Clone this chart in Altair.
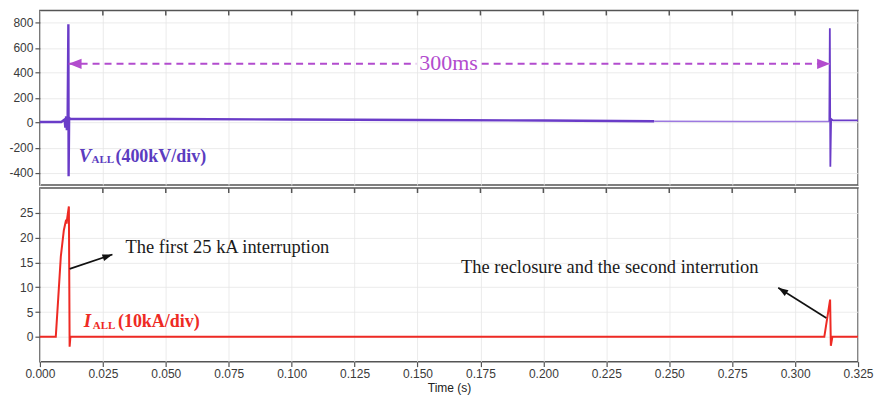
import altair as alt
import pandas as pd

# ---------------- data ----------------
x_ticks = [0.0, 0.025, 0.05, 0.075, 0.1, 0.125, 0.15, 0.175, 0.2, 0.225, 0.25, 0.275, 0.3, 0.325]
inner_ticks = [0.025, 0.05, 0.075, 0.1, 0.125, 0.15, 0.175, 0.2, 0.225, 0.25, 0.275, 0.3]
v_ticks = [-400, -200, 0, 200, 400, 600, 800]
i_ticks = [0, 5, 10, 15, 20, 25]

# voltage (kV)
v_main_t = [0.0, 0.0085, 0.0098, 0.0101, 0.0104, 0.0107, 0.0110, 0.0113, 0.0114, 0.0116, 0.0120,
            0.05, 0.10, 0.15, 0.20, 0.244]
v_main = [5, 5, 25, -40, 50, -60, 10, 790, -430, 40, 30,
          29, 26, 22, 17, 12]
v_tail_t = [0.244, 0.28, 0.3136]
v_tail = [12, 10, 9]
v_end_t = [0.3136, 0.3138, 0.3140, 0.3143, 0.3150, 0.325]
v_end = [9, 758, -354, 30, 18, 18]

# current (kA)
i_t = [0.0, 0.0063, 0.0073, 0.0083, 0.0095, 0.0104, 0.0106, 0.0108, 0.0115, 0.0118, 0.0121,
       0.3116, 0.3139, 0.3142, 0.3148, 0.325]
i_v = [0, 0, 8, 16.2, 21.5, 23.6, 22.8, 23.8, 26.3, -2.0, 0,
       0, 7.5, -1.8, 0, 0]

# 300 ms marker
span_t = [0.0114, 0.3139]
span_v = [472, 472]
span_gap = [0.1495, 0.1755]
span_label = ["300ms"]
span_label_t = [0.1623]
span_label_v = [424]

# labels
v_label_t = [0.0154, 0.0205, 0.0300]
v_label_v = [-312, -322, -312]
v_label_txt = ["V", "ALL", "(400kV/div)"]
i_label_t = [0.0174, 0.0210, 0.0310]
i_label_v = [2.0, 1.6, 2.0]
i_label_txt = ["I", "ALL", "(10kA/div)"]

notes_txt = ["The first 25 kA interruption", "The reclosure and the second interrution"]
notes_t = [0.0340, 0.1673]
notes_v = [17.0, 12.9]
arrow_from_t = [0.0118, 0.3124]
arrow_from_v = [13.7, 3.8]
arrow_to_t = [0.0288, 0.2933]
arrow_to_v = [16.6, 9.9]
arrow_angle = [71, 303]

# ---------------- layout ----------------
W, H1, H2 = 820, 175, 174
xs = alt.Scale(domain=[0, 0.325], nice=False, zero=False)
vs = alt.Scale(domain=[-500, 900], nice=False, zero=False)
isc = alt.Scale(domain=[-5, 30], nice=False, zero=False)

PURPLE = "#6a3cc8"
PURPLE_L = "#9c78e0"
MAGENTA = "#b24cce"
RED = "#ee2a24"
SERIF = "Liberation Serif"
MINUS = "replace(datum.label, '\u2212', '-')"


def df(**cols):
    return pd.DataFrame(cols)


XT = alt.X("t:Q", scale=xs, title=None,
           axis=alt.Axis(values=x_ticks, labels=False, ticks=False, domain=False, title=None, grid=True))
YT = alt.Y("v:Q", scale=vs, title=None,
           axis=alt.Axis(values=v_ticks, title=None, grid=True, domain=False, labelOverlap=False,
                         labelExpr=MINUS))
XB = alt.X("t:Q", scale=xs, title="Time (s)",
           axis=alt.Axis(values=x_ticks, format=".3f", title="Time (s)", grid=True,
                         labelFlush=False, labelOverlap=False, domain=False))
YB = alt.Y("v:Q", scale=isc, title=None,
           axis=alt.Axis(values=i_ticks, title=None, grid=True, domain=False, labelOverlap=False))

# ---------- top panel ----------
v_line = alt.Chart(df(t=v_main_t, v=v_main)).mark_line(color=PURPLE, strokeWidth=2.4).encode(
    x=XT, y=YT, order="o:Q").transform_window(o="row_number()")

v_tail_l = alt.Chart(df(t=v_tail_t, v=v_tail)).mark_line(color=PURPLE_L, strokeWidth=1.4).encode(
    x=XT, y=YT)

v_end_l = alt.Chart(df(t=v_end_t, v=v_end)).mark_line(color=PURPLE, strokeWidth=1.8).encode(
    x=XT, y=YT, order="o:Q").transform_window(o="row_number()")

span_df = df(t=[span_t[0], span_gap[1]], t2=[span_gap[0], span_t[1]], v=span_v)
span_rule = alt.Chart(span_df).mark_rule(color=MAGENTA, strokeWidth=2, strokeDash=[7, 5]).encode(
    x=XT, x2="t2:Q", y=YT)

head_l = alt.Chart(df(t=[span_t[0]], v=[span_v[0]])).mark_point(
    shape="M0,0L2,-0.8L2,0.8Z", filled=True, opacity=1, size=169, color=MAGENTA, strokeWidth=0
).encode(x=XT, y=YT)
head_r = alt.Chart(df(t=[span_t[1]], v=[span_v[1]])).mark_point(
    shape="M0,0L-2,-0.8L-2,0.8Z", filled=True, opacity=1, size=169, color=MAGENTA, strokeWidth=0
).encode(x=XT, y=YT)

span_txt = alt.Chart(df(t=span_label_t, v=span_label_v, s=span_label)).mark_text(
    font=SERIF, fontSize=22, color=MAGENTA, align="center", baseline="alphabetic"
).encode(x=XT, y=YT, text="s:N")

vl = df(t=v_label_t, v=v_label_v, s=v_label_txt)
v_lab1 = alt.Chart(vl.iloc[[0]]).mark_text(font=SERIF, fontSize=19, fontWeight="bold", fontStyle="italic",
                                           color="#5b3cc0", align="left", baseline="alphabetic").encode(
    x=XT, y=YT, text="s:N")
v_lab2 = alt.Chart(vl.iloc[[1]]).mark_text(font=SERIF, fontSize=11, fontWeight="bold",
                                           color="#5b3cc0", align="left", baseline="alphabetic").encode(
    x=XT, y=YT, text="s:N")
v_lab3 = alt.Chart(vl.iloc[[2]]).mark_text(font=SERIF, fontSize=18, fontWeight="bold",
                                           color="#5b3cc0", align="left", baseline="alphabetic").encode(
    x=XT, y=YT, text="s:N")

top_ticks = alt.Chart(df(t=inner_ticks)).mark_rule(color="#555", strokeWidth=1.5).encode(
    x=XT, y=alt.value(0), y2=alt.value(5))

top = alt.layer(v_line, v_tail_l, v_end_l, span_rule, head_l, head_r, span_txt,
                v_lab1, v_lab2, v_lab3, top_ticks).properties(width=W, height=H1)

# ---------- bottom panel ----------
i_line = alt.Chart(df(t=i_t, v=i_v)).mark_line(color=RED, strokeWidth=2).encode(
    x=XB, y=YB, order="o:Q").transform_window(o="row_number()")

il = df(t=i_label_t, v=i_label_v, s=i_label_txt)
i_lab1 = alt.Chart(il.iloc[[0]]).mark_text(font=SERIF, fontSize=19, fontWeight="bold", fontStyle="italic",
                                           color=RED, align="left", baseline="alphabetic").encode(
    x=XB, y=YB, text="s:N")
i_lab2 = alt.Chart(il.iloc[[1]]).mark_text(font=SERIF, fontSize=11, fontWeight="bold",
                                           color=RED, align="left", baseline="alphabetic").encode(
    x=XB, y=YB, text="s:N")
i_lab3 = alt.Chart(il.iloc[[2]]).mark_text(font=SERIF, fontSize=18, fontWeight="bold",
                                           color=RED, align="left", baseline="alphabetic").encode(
    x=XB, y=YB, text="s:N")

notes = alt.Chart(df(t=notes_t, v=notes_v, s=notes_txt)).mark_text(
    font=SERIF, fontSize=18.5, color="#1a1a1a", align="left", baseline="alphabetic"
).encode(x=XB, y=YB, text="s:N")

arr_df = df(t0=arrow_from_t, v0=arrow_from_v, t=arrow_to_t, v=arrow_to_v, a=arrow_angle)
arr_line = alt.Chart(arr_df).mark_rule(color="#111", strokeWidth=1.6).encode(
    x=XB, y=YB, x2="t0:Q", y2="v0:Q")
arr_head = alt.Chart(arr_df).mark_point(
    shape="M0,0L-0.7,2L0.7,2Z", filled=True, opacity=1, size=100, color="#111", strokeWidth=0
).encode(x=XB, y=YB, angle=alt.Angle("a:Q", scale=None))

bot_ticks = alt.Chart(df(t=inner_ticks)).mark_rule(color="#555", strokeWidth=1.5).encode(
    x=XB, y=alt.value(0), y2=alt.value(5))

bottom = alt.layer(i_line, i_lab1, i_lab2, i_lab3, notes, arr_line, arr_head, bot_ticks).properties(
    width=W, height=H2)

chart = alt.vconcat(top, bottom, spacing=0, background="white", padding=0).configure_view(
    stroke="#555", strokeWidth=1.5
).configure_axis(
    labelFont="Liberation Sans", labelFontSize=12, labelColor="#3a3a3a",
    tickColor="#555", tickSize=5, tickWidth=1.2, labelPadding=2,
    gridColor="#e6e6e6", gridWidth=0.8,
    titleFont="Liberation Sans", titleFontSize=12, titleFontWeight="normal", titleColor="#222",
    titlePadding=3,
)

chart.save("out.html", embed_options={"renderer": "svg", "actions": False})
